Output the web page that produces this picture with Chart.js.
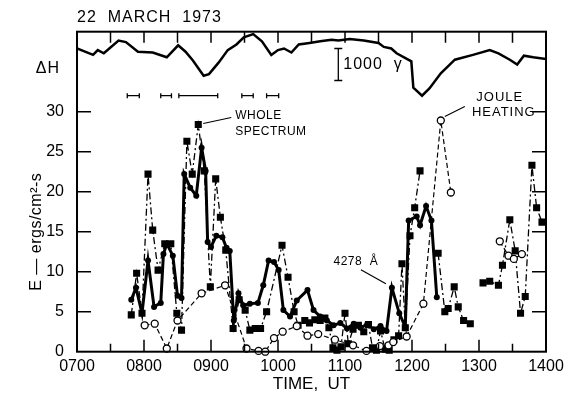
<!DOCTYPE html>
<html>
<head>
<meta charset="utf-8">
<script src="https://cdn.jsdelivr.net/npm/chart.js@4"></script>
<style>
  html, body { margin: 0; padding: 0; background: #fff; }
  #wrap { width: 571px; height: 406px; }
</style>
</head>
<body>
<div id="wrap"><canvas id="chart"></canvas></div>
<script>
// times in decimal hours UT, energies in ergs/cm2-s
const wholeTime = [7.81, 7.89, 7.97, 8.06, 8.13, 8.21, 8.31, 8.40, 8.49, 8.56, 8.64, 8.72, 8.81, 8.90, 8.99, 9.07, 9.14, 9.22, 9.33, 9.42,
  9.51, 9.58, 9.66, 9.74, 9.83, 10.06, 10.15, 10.24, 10.30, 10.40, 10.47, 10.55, 10.63, 10.70, 10.76, 10.82, 10.88, 10.94, 11.00, 11.05,
  11.12, 11.20, 11.28, 11.35, 11.41, 11.47, 11.53, 11.60, 11.66, 11.73, 11.80, 11.85, 11.90, 11.97, 12.04, 12.12, 12.25, 12.39, 12.49, 12.54,
  12.63, 12.69, 12.77, 12.87, 12.95, 13.06, 13.16, 13.29, 13.35, 13.46, 13.54, 13.62, 13.69, 13.79, 13.86, 13.94];
const wholeValue = [4.6, 9.8, 4.8, 22.2, 15.2, 10.2, 13.5, 13.5, 4.8, 2.7, 26.3, 22.2, 28.4, 22.6, 8.1, 21.6, 16.8, 12.7, 2.9, 6.5,
  5.2, 2.7, 2.9, 2.9, 5.0, 13.3, 9.3, 5.0, 3.3, 3.9, 3.6, 4.0, 3.9, 4.2, 3.0, 0.5, 0.2, 0.6, 4.8, 1.0,
  2.8, 3.3, 2.5, 3.4, 0.5, 0.2, 2.6, 0.3, 0.2, 1.5, 2.0, 11.0, 3.0, 14.5, 18.0, 22.6, null, 12.3, 5.0, 5.4,
  8.1, 5.6, 3.9, 3.5, null, 8.6, 8.8, 8.3, 10.8, 16.5, 12.6, 4.8, 6.9, 23.3, 18.0, 16.2];

const lineTime = [7.81, 7.88, 7.97, 8.06, 8.15, 8.25, 8.29, 8.34, 8.43, 8.50, 8.56, 8.60, 8.69, 8.78, 8.86, 8.92, 8.95, 9.00, 9.08, 9.17,
  9.23, 9.28, 9.34, 9.41, 9.48, 9.58, 9.70, 9.78, 9.86, 9.94, 10.01, 10.08, 10.18, 10.28, 10.44, 10.53, 10.63, 10.73, 10.83, 10.93,
  11.03, 11.13, 11.23, 11.33, 11.43, 11.53, 11.62, 11.70, 11.81, 11.90, 11.95, 12.07, 12.12, 12.21, 12.29, 12.37];
const lineValue = [6.5, 8.0, 4.8, 11.4, 5.6, 6.1, 12.2, 13.5, 12.0, 7.0, 6.7, 22.2, 20.5, 19.5, 25.5, 22.6, 13.7, 13.1, 14.5, 14.3,
  13.0, 12.6, 3.9, 7.3, 5.8, 6.0, 6.1, 8.3, 11.4, 11.2, 10.2, 5.2, 4.4, 6.4, 7.7, 5.2, 4.4, 3.9, 3.3, 3.6,
  2.9, 3.5, 3.0, 3.4, 2.8, 3.2, 2.6, 8.0, 4.8, 3.1, 16.4, 16.9, 15.8, 18.2, 16.4, 6.8];

const jouleTime = [8.01, 8.16, 8.34, 8.50, 8.86, 9.21, 9.53, 9.71, 9.81, 9.94, 10.07, 10.28, 10.44, 10.60, 10.85, 11.12, 11.32, 11.52, 11.65, 11.72,
  11.92, 12.17, 12.43, 12.58, 12.90, 13.31, 13.44, 13.52, 13.64];
const jouleValue = [3.3, 3.5, 0.4, 3.9, 7.3, 8.3, 0.4, 0.1, 0.0, 1.7, 2.5, 3.2, 2.0, 2.2, 1.5, 0.8, 0.1, 0.7, 0.8, 1.2,
  1.9, 6.0, 28.9, 19.9, null, 13.8, 12.0, 11.6, 12.2];

// magnetogram trace, plotted in the band above 30 on the E axis
const dhTime = [7.00, 7.24, 7.31, 7.40, 7.62, 7.73, 7.91, 8.13, 8.34, 8.51, 8.62, 8.73, 8.89, 8.97, 9.11, 9.25, 9.38, 9.49, 9.63, 9.76,
  9.90, 10.00, 10.09, 10.20, 10.31, 10.47, 10.63, 10.80, 10.90, 11.07, 11.28, 11.50, 11.58, 11.69, 11.77, 11.99, 12.02, 12.15, 12.26, 12.43,
  12.64, 12.91, 13.16, 13.29, 13.46, 13.57, 13.67, 13.81, 14.00];
const dhValue = [37.9, 37.1, 37.7, 37.3, 38.9, 38.7, 37.5, 37.4, 36.8, 38.3, 37.5, 36.4, 34.5, 34.7, 36.1, 37.7, 38.4, 39.3, 39.7, 38.8,
  37.1, 37.7, 37.9, 37.4, 38.4, 38.6, 38.8, 39.0, 38.9, 39.1, 38.9, 38.6, 38.1, 37.9, 37.3, 36.3, 33.0, 32.0, 32.9, 34.8,
  36.5, 37.1, 37.7, 37.3, 36.5, 35.9, 37.0, 36.8, 36.6];
const barTime = 10.90;
const barRange = [37.9, 33.9];   // 1000 gamma

const intervalStart = [7.75, 8.25, 8.52, 9.46, 9.83];
const intervalEnd = [7.93, 8.41, 9.10, 9.63, 10.01];
const intervalLevel = 32.0;

const xTickLabels = ['0700', '0800', '0900', '1000', '1100', '1200', '1300', '1400'];
const yTickLabels = [0, 5, 10, 15, 20, 25, 30];

const FONT = "'Liberation Sans', Arial, sans-serif";

function pairs(t, v) {
  return t.map((x, i) => ({x: x, y: v[i]}));
}

let intervalData = [];
intervalStart.forEach((s, i) => {
  intervalData.push({x: s, y: intervalLevel}, {x: intervalEnd[i], y: intervalLevel}, {x: intervalEnd[i] + 0.01, y: null});
});

const annotate = {
  id: 'annotate',
  afterDatasetsDraw(chart) {
    const {ctx, chartArea: a, scales: {x, y}} = chart;
    ctx.save();
    ctx.strokeStyle = '#000';
    ctx.fillStyle = '#000';
    ctx.lineWidth = 2;
    ctx.strokeRect(a.left, a.top, a.right - a.left, a.bottom - a.top);

    // inward ticks on all four sides
    ctx.lineWidth = 1.5;
    ctx.beginPath();
    for (let h = 7.5; h < 14; h += 0.5) {
      const px = x.getPixelForValue(h);
      const hour = Number.isInteger(h);
      ctx.moveTo(px, a.bottom); ctx.lineTo(px, a.bottom - (hour ? 12 : 8));
      ctx.moveTo(px, a.top); ctx.lineTo(px, a.top + 11);
    }
    yTickLabels.forEach(v => {
      if (v === 0) return;
      const py = y.getPixelForValue(v);
      ctx.moveTo(a.left, py); ctx.lineTo(a.left + 14, py);
      ctx.moveTo(a.right, py); ctx.lineTo(a.right - 14, py);
    });
    ctx.stroke();

    ctx.textBaseline = 'middle';
    ctx.font = '16px ' + FONT;
    ctx.textAlign = 'left';
    ctx.letterSpacing = '1px';
    ctx.fillText('22  MARCH  1973', a.left, 18);
    ctx.textAlign = 'right';
    ctx.fillText('\u0394H', a.left - 17, y.getPixelForValue(35.4));

    // scale bar label
    ctx.textAlign = 'left';
    ctx.fillText('1000  \u03B3', x.getPixelForValue(barTime) + 5, y.getPixelForValue((barRange[0] + barRange[1]) / 2));

    // E axis title, reading upwards
    ctx.save();
    ctx.translate(37, y.getPixelForValue(15));
    ctx.rotate(-Math.PI / 2);
    ctx.textAlign = 'center';
    ctx.letterSpacing = '0.5px';
    ctx.fillText('E \u2014 ergs/cm\u00B2-s', 0, 0);
    ctx.restore();

    // pointers and labels
    ctx.font = '12px ' + FONT;
    ctx.letterSpacing = '0.5px';
    ctx.lineWidth = 1.2;

    const wi = wholeValue.indexOf(Math.max(...wholeValue.filter(v => v !== null)));
    const wx = x.getPixelForValue(wholeTime[wi]), wy = y.getPixelForValue(wholeValue[wi]);
    ctx.beginPath(); ctx.moveTo(wx + 5, wy - 1); ctx.lineTo(wx + 33, wy - 7); ctx.stroke();
    ctx.textAlign = 'left';
    ctx.fillText('WHOLE', wx + 37, wy - 9);
    ctx.fillText('SPECTRUM', wx + 37, wy + 7);

    const li = lineTime.indexOf(11.70);
    const lx = x.getPixelForValue(lineTime[li]), ly = y.getPixelForValue(lineValue[li]);
    ctx.beginPath(); ctx.moveTo(lx - 6, ly - 4); ctx.lineTo(lx - 31, ly - 18); ctx.stroke();
    ctx.textAlign = 'center';
    ctx.fillText('4278  \u00C5', lx - 36, ly - 26);

    const ji = jouleValue.indexOf(Math.max(...jouleValue.filter(v => v !== null)));
    const jx = x.getPixelForValue(jouleTime[ji]), jy = y.getPixelForValue(jouleValue[ji]);
    ctx.beginPath(); ctx.moveTo(jx + 4, jy - 4); ctx.lineTo(jx + 24, jy - 14); ctx.stroke();
    ctx.font = '13px ' + FONT;
    ctx.letterSpacing = '1px';
    ctx.fillText('JOULE', jx + 59, jy - 23);
    ctx.fillText('HEATING', jx + 63, jy - 8);
    ctx.restore();
  }
};

new Chart(document.getElementById('chart'), {
  type: 'line',
  data: {
    datasets: [
      {
        label: 'Joule heating',
        data: pairs(jouleTime, jouleValue),
        borderColor: '#000',
        borderWidth: 1.2,
        borderDash: [5, 3],
        pointStyle: 'circle',
        pointRadius: 3.5,
        pointBackgroundColor: '#fff',
        pointBorderColor: '#000',
        pointBorderWidth: 1.3,
        spanGaps: false,
        clip: 8
      },
      {
        label: 'Whole spectrum',
        data: pairs(wholeTime, wholeValue),
        borderColor: '#000',
        borderWidth: 1.3,
        borderDash: [7, 3, 2, 3],
        pointStyle: 'rect',
        pointRadius: 5,
        pointBackgroundColor: '#000',
        pointBorderColor: '#000',
        pointBorderWidth: 0,
        spanGaps: false,
        clip: 8
      },
      {
        label: '4278 A',
        data: pairs(lineTime, lineValue),
        borderColor: '#000',
        borderWidth: 3,
        pointStyle: 'circle',
        pointRadius: 3,
        pointBackgroundColor: '#000',
        pointBorderColor: '#000',
        pointBorderWidth: 0,
        clip: 8
      },
      {
        label: 'dH',
        data: pairs(dhTime, dhValue),
        borderColor: '#000',
        borderWidth: 2.5,
        pointRadius: 0
      },
      {
        label: 'scale',
        data: [{x: barTime, y: barRange[0]}, {x: barTime, y: barRange[1]}],
        borderColor: '#000',
        borderWidth: 1.3,
        pointStyle: 'line',
        pointRadius: 4,
        pointBorderWidth: 1.3,
        pointBorderColor: '#000'
      },
      {
        label: 'intervals',
        data: intervalData,
        borderColor: '#000',
        borderWidth: 1.3,
        pointStyle: 'line',
        pointRotation: 90,
        pointRadius: 2.5,
        pointBorderWidth: 1.3,
        pointBorderColor: '#000',
        spanGaps: false
      }
    ]
  },
  options: {
    responsive: true,
    maintainAspectRatio: false,
    animation: false,
    layout: {padding: {top: 31.7, right: 25, left: 0, bottom: 0}},
    plugins: {legend: {display: false}, tooltip: {enabled: false}},
    elements: {line: {tension: 0}},
    scales: {
      x: {
        type: 'linear',
        min: 7, max: 14,
        grid: {display: false, drawTicks: false},
        border: {display: false},
        ticks: {
          stepSize: 1, autoSkip: false, maxRotation: 0, padding: 5,
          color: '#000', font: {size: 16, family: FONT},
          callback: v => xTickLabels[Math.round(v) - 7]
        },
        title: {display: true, text: 'TIME,  UT', color: '#000', font: {size: 17, family: FONT}, padding: {top: 0, bottom: 11}},
        afterFit: s => { s.height = 406 - 351.7; }
      },
      y: {
        min: 0, max: 40,
        grid: {display: false, drawTicks: false},
        border: {display: false},
        ticks: {
          stepSize: 5, padding: 13,
          color: '#000', font: {size: 16, family: FONT},
          callback: v => (yTickLabels.indexOf(v) >= 0 ? String(v) : '')
        },
        afterFit: s => { s.width = 77; }
      }
    }
  },
  plugins: [annotate]
});
</script>
</body>
</html>
